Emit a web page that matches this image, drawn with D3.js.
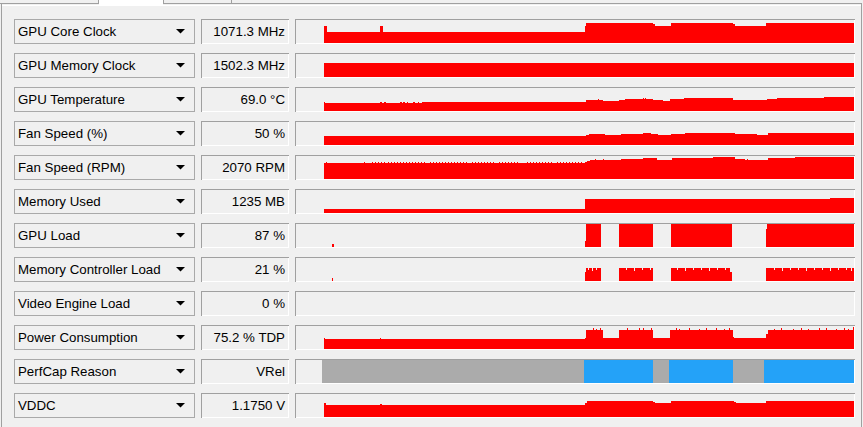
<!DOCTYPE html>
<html>
<head>
<meta charset="utf-8">
<script src="https://cdn.jsdelivr.net/npm/d3@7"></script>
<style>
    body { margin: 0; background: #f0f0f0; overflow: hidden; }
    text { font-family: "Liberation Sans", Arial, sans-serif; font-size: 13.3px; fill: #000; }
</style>
</head>
<body>
<svg id="sensors"></svg>
<script>
// sensor rows, as shown in the panel
const sensorNames = ["GPU Core Clock", "GPU Memory Clock", "GPU Temperature", "Fan Speed (%)",
    "Fan Speed (RPM)", "Memory Used", "GPU Load", "Memory Controller Load", "Video Engine Load",
    "Power Consumption", "PerfCap Reason", "VDDC"];
const sensorReadings = ["1071.3 MHz", "1502.3 MHz", "69.0 °C", "50 %", "2070 RPM", "1235 MB",
    "87 %", "21 %", "0 %", "75.2 % TDP", "VRel", "1.1750 V"];
// top of each graph in sensor units
const graphMax = [1232, 2470, 113.4, 96, 2164, 1894, 100, 37, 100, 80, null, 1.69];

const historyLength = 558; // samples across the graph

// histories: [sample, value], value holds until next sample
const coreClock = [[28, 910], [31, 590], [84, 910], [87, 590], [289, 911], [290, 1071.3],
    [357, 1017], [359, 911], [375, 1071.3], [437, 1017], [439, 911], [470, 1071.3]];
const memClock = [[28, 1502.3]];
const gpuTemp = [[28, 39], [126, 44], [290, 54], [307, 49], [323, 54], [329, 59], [357, 54],
    [367, 49], [374, 59], [388, 64], [437, 54], [471, 59], [481, 64], [528, 69]];
const fanPct = [[28, 38], [290, 42], [293, 46], [309, 42], [325, 46], [347, 50], [355, 46],
    [362, 42], [375, 46], [389, 50], [439, 46], [461, 42], [472, 50]];
const fanRpm = [[28, 1505], [289, 1600], [291, 1694], [294, 1788], [325, 1882], [347, 1976],
    [361, 1788], [376, 1976], [417, 2070], [439, 1882], [449, 1788], [472, 1976], [499, 2070]];
const memUsed = [[28, 330], [289, 1153], [534, 1235]];
const gpuLoad = [[36, 13], [38, 0], [289, 26], [290, 100], [305, 0], [323, 100], [357, 0],
    [375, 98], [436, 0], [470, 78], [471, 100]];
const mcLoad = [[36, 5], [37, 0], [289, 14], [290, 21], [292, 17], [293, 21], [296, 16], [297, 21],
    [300, 18], [301, 21], [305, 0], [323, 21], [330, 17], [331, 21], [338, 16], [339, 21], [346, 18],
    [347, 21], [354, 17], [355, 21], [357, 0], [375, 21], [381, 17], [382, 21], [389, 16], [390, 21],
    [397, 18], [398, 21], [405, 17], [406, 21], [413, 16], [414, 21], [421, 17], [422, 21], [429, 18],
    [430, 21], [434, 15], [436, 0], [470, 21], [478, 17], [479, 21], [486, 16], [487, 21], [494, 18],
    [495, 21], [502, 17], [503, 21], [510, 16], [511, 21], [518, 17], [519, 21], [526, 18], [527, 21],
    [534, 16], [535, 21], [542, 17], [543, 21], [550, 18], [551, 21], [555, 16], [556, 21]];
const videoLoad = [[28, 0]];
const power = [[28, 35], [289, 38], [290, 66], [307, 38], [323, 66], [357, 38], [374, 66],
    [437, 42], [438, 38], [470, 52], [472, 66]];
const perfCap = [[26, "Idle"], [288, "VRel"], [357, "Idle"], [373, "VRel"], [437, "Idle"], [468, "VRel"]];
const vddc = [[28, 1.025], [30, 0.875], [84, 0.95], [86, 0.875], [289, 1.025], [291, 1.175],
    [357, 1.1], [359, 1.025], [375, 1.175], [438, 1.1], [440, 1.025], [470, 1.175]];

// single-sample spikes: [sample, value]
const tempSpikes = [[28, 44], [84, 44], [85, 44], [88, 44], [89, 44], [104, 44], [105, 44],
    [107, 44], [108, 44], [111, 44], [117, 44], [118, 44], [122, 44], [302, 59], [347, 64], [349, 64]];
const rpmSpikes = [30, 68, 76, 79, 82, 85, 88, 92, 95, 98, 101, 104, 107, 110, 113, 116, 119, 122,
    125, 128, 134, 137, 140, 143, 146, 149, 152, 155, 158, 161, 164, 167, 170, 176, 179, 182, 185,
    188, 191, 194, 197, 203, 206, 209, 212, 215, 218, 221, 231, 234, 237, 240, 243, 246, 249, 252,
    255, 261, 264, 267, 270, 273, 276, 279, 282, 285].map(t => [t, 1600])
    .concat([[299, 1882], [307, 1882], [451, 1882]]);
const powerSpikes = [[28, 38], [84, 38], [297, 73], [300, 70], [304, 73], [331, 73], [343, 73],
    [347, 73], [355, 73], [380, 73], [383, 70], [393, 73], [403, 70], [410, 73], [420, 73], [428, 70],
    [433, 73], [478, 70], [485, 73], [497, 70], [505, 73], [512, 70], [523, 73], [530, 73], [540, 70],
    [548, 73], [552, 70], [557, 75.2]];

const histories = [coreClock, memClock, gpuTemp, fanPct, fanRpm, memUsed, gpuLoad, mcLoad,
    videoLoad, power, perfCap, vddc];
const spikes = { 2: tempSpikes, 4: rpmSpikes, 9: powerSpikes };
const perfCapColor = { Idle: "#ababab", VRel: "#24a2f8" };

const width = 863, height = 427;
const svg = d3.select("#sensors")
    .attr("width", width)
    .attr("height", height)
    .style("shape-rendering", "crispEdges");

// window frame and tab strip
const frame = svg.append("g").attr("stroke-width", 1);
[[0, 98], [163, 862]].forEach(([a, b]) =>
    frame.append("line").attr("x1", a).attr("x2", b).attr("y1", 3.5).attr("y2", 3.5).attr("stroke", "#a0a0a0"));
[98.5, 163.5, 231.5].forEach(px =>
    frame.append("line").attr("x1", px).attr("x2", px).attr("y1", 0).attr("y2", 4).attr("stroke", "#a0a0a0"));
frame.append("rect").attr("x", 99).attr("y", 0).attr("width", 64).attr("height", 5).attr("fill", "#ffffff");
frame.append("line").attr("x1", 2).attr("x2", 861).attr("y1", 5.5).attr("y2", 5.5).attr("stroke", "#ffffff");
frame.append("line").attr("x1", 1.5).attr("x2", 1.5).attr("y1", 4).attr("y2", height).attr("stroke", "#a0a0a0");
frame.append("line").attr("x1", 861.5).attr("x2", 861.5).attr("y1", 3).attr("y2", height).attr("stroke", "#a0a0a0");

const x = d3.scaleLinear().domain([0, historyLength]).range([296, 854]);

// sunken box: grey top/left, white bottom/right
function sunkenBox(g, x0, x1, y0, y1) {
    g.append("line").attr("x1", x0).attr("x2", x1 + 1).attr("y1", y0 + 0.5).attr("y2", y0 + 0.5).attr("stroke", "#a0a0a0");
    g.append("line").attr("x1", x0 + 0.5).attr("x2", x0 + 0.5).attr("y1", y0).attr("y2", y1 + 1).attr("stroke", "#a0a0a0");
    g.append("line").attr("x1", x0 + 1).attr("x2", x1 + 1).attr("y1", y1 + 0.5).attr("y2", y1 + 0.5).attr("stroke", "#ffffff");
    g.append("line").attr("x1", x1 + 0.5).attr("x2", x1 + 0.5).attr("y1", y0 + 1).attr("y2", y1 + 1).attr("stroke", "#ffffff");
}

sensorNames.forEach((name, i) => {
    const top = 19 + 34 * i, bottom = top + 24;
    const row = svg.append("g");

    // name combo box
    row.append("rect")
        .attr("x", 14.5).attr("y", top + 0.5)
        .attr("width", 180).attr("height", 24)
        .attr("fill", "#f0f0f0").attr("stroke", "#a9a9a9");
    row.append("text")
        .attr("x", 18).attr("y", top + 17)
        .style("shape-rendering", "auto")
        .text(name);
    row.append("path")
        .attr("d", `M176,${top + 10}L185,${top + 10}L180.5,${top + 14.5}Z`)
        .style("shape-rendering", "auto")
        .attr("fill", "#000");

    // current reading
    sunkenBox(row, 201, 288, top, bottom);
    row.append("text")
        .attr("x", 285).attr("y", top + 17)
        .attr("text-anchor", "end")
        .text(sensorReadings[i]);

    // history graph
    sunkenBox(row, 295, 854, top, bottom);
    const hist = histories[i];

    if (graphMax[i] === null) {
        // categorical limit reason strip
        hist.forEach((d, k) => {
            const end = k + 1 < hist.length ? hist[k + 1][0] : historyLength;
            row.append("rect")
                .attr("x", x(d[0])).attr("y", top + 1)
                .attr("width", x(end) - x(d[0])).attr("height", 23)
                .attr("fill", perfCapColor[d[1]]);
        });
        return;
    }

    const y = d3.scaleLinear().domain([0, graphMax[i]]).range([bottom, top + 1]).clamp(true);
    const area = d3.area()
        .curve(d3.curveStepAfter)
        .x(d => x(d[0]))
        .y0(y(0))
        .y1(d => y(d[1]));

    const points = hist.concat([[historyLength, hist[hist.length - 1][1]]]);
    row.append("path")
        .datum(points)
        .attr("d", area)
        .attr("fill", "#ff0000");

    if (spikes[i]) {
        row.selectAll(".spike")
            .data(spikes[i])
            .enter().append("rect")
            .attr("x", d => x(d[0]))
            .attr("y", d => y(d[1]))
            .attr("width", d => x(d[0] + 1) - x(d[0]))
            .attr("height", d => y(0) - y(d[1]))
            .attr("fill", "#ff0000");
    }
});
</script>
</body>
</html>
